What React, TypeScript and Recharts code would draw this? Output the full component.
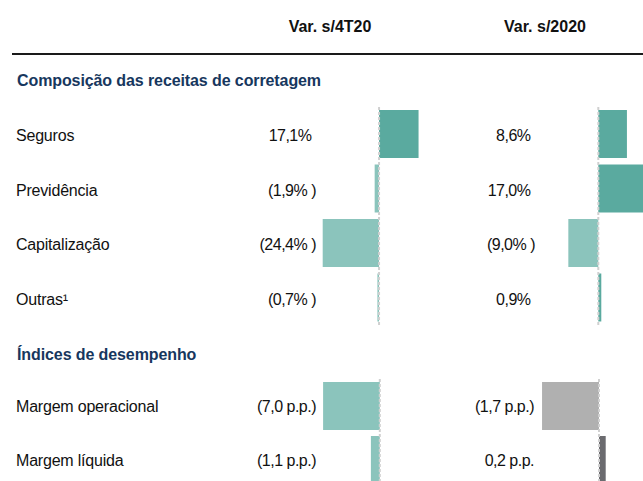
import React from 'react';
import { BarChart, Bar, XAxis, YAxis, ReferenceLine, Cell } from 'recharts';

// brokerage revenue mix (variation, %)
const compCategories = ['Seguros', 'Previdência', 'Capitalização', 'Outras¹'];
const compVar4T20 = [17.1, -1.9, -24.4, -0.7];
const compVar2020 = [8.6, 17.0, -9.0, 0.9];

// performance ratios (variation, p.p.)
const perfCategories = ['Margem operacional', 'Margem líquida'];
const perfVar4T20 = [-7.0, -1.1];
const perfVar2020 = [-1.7, 0.2];

const columnHeaders = ['Var. s/4T20', 'Var. s/2020'];
const sectionTitles = ['Composição das receitas de corretagem', 'Índices de desempenho'];

const TEAL = { pos: '#5aaa9f', neg: '#8bc4bc' };
const GRAY = { pos: '#6b6b6f', neg: '#b0b0b0' };

const FONT = '"Liberation Sans", Arial, sans-serif';
const BAND = 54.5;
const COMP_TOP = 107;
const PERF_TOP = 379;
const ZERO_1 = 379.5;
const ZERO_2 = 598.5;
const VALUE_RIGHT_1 = 316;
const VALUE_RIGHT_2 = 535;

const fmt = (v: number) => Math.abs(v).toFixed(1).replace('.', ',');
const fmtPct = (v: number) => (v < 0 ? `(${fmt(v)}% )` : `${fmt(v)}%`);
const fmtPp = (v: number) => (v < 0 ? `(${fmt(v)} p.p.)` : `${fmt(v)} p.p.`);

interface Palette {
  pos: string;
  neg: string;
}

interface StripProps {
  names: string[];
  values: number[];
  domain: [number, number];
  pxPerUnit: number;
  zeroX: number;
  top: number;
  band: number;
  palette: Palette;
}

function BarStrip({ names, values, domain, pxPerUnit, zeroX, top, band, palette }: StripProps) {
  const data = names.map((name, i) => ({ name, value: values[i] }));
  const width = (domain[1] - domain[0]) * pxPerUnit;
  const left = zeroX + domain[0] * pxPerUnit;
  return (
    <div style={{ position: 'absolute', left, top }}>
      <BarChart
        width={width}
        height={band * names.length}
        data={data}
        layout="vertical"
        margin={{ top: 0, right: 0, bottom: 0, left: 0 }}
        barSize={48}
      >
        <XAxis type="number" domain={domain} allowDataOverflow hide />
        <YAxis type="category" dataKey="name" hide />
        <Bar dataKey="value" isAnimationActive={false}>
          {data.map((d, i) => (
            <Cell key={i} fill={d.value >= 0 ? palette.pos : palette.neg} />
          ))}
        </Bar>
        <ReferenceLine x={0} stroke="#d0d0d0" strokeWidth={2} strokeDasharray="3 2" />
      </BarChart>
    </div>
  );
}

interface TextOpts {
  left?: number;
  right?: number;
  center?: number;
  bold?: boolean;
  color?: string;
  pad?: number;
  spacing?: number;
}

const text = (content: string, capMid: number, opts: TextOpts) => {
  const style: React.CSSProperties = {
    position: 'absolute',
    top: capMid - 9.8,
    lineHeight: '20px',
    fontSize: 16,
    fontWeight: opts.bold ? 700 : 400,
    color: opts.color ?? '#111',
    letterSpacing: opts.spacing ?? 0,
    whiteSpace: 'pre',
  };
  if (opts.left !== undefined) {
    style.left = opts.left;
  } else if (opts.right !== undefined) {
    style.left = opts.right - 150;
    style.width = 150;
    style.textAlign = 'right';
    style.paddingRight = opts.pad ?? 0;
    style.boxSizing = 'border-box';
  } else if (opts.center !== undefined) {
    style.left = opts.center - 80;
    style.width = 160;
    style.textAlign = 'center';
  }
  return (
    <div key={content + capMid + (opts.left ?? opts.right ?? opts.center)} style={style}>
      {content}
    </div>
  );
};

export default function App() {
  const perfBand = 54;
  return (
    <div
      style={{
        position: 'absolute',
        left: 0,
        top: 0,
        width: 643,
        height: 481,
        overflow: 'hidden',
        background: '#fff',
        fontFamily: FONT,
      }}
    >
      {text(columnHeaders[0], 27, { center: 330, bold: true })}
      {text(columnHeaders[1], 27, { center: 545, bold: true })}
      <div style={{ position: 'absolute', left: 12, top: 53, width: 631, height: 2, background: '#1a1a1a' }} />

      {text(sectionTitles[0], 81, { left: 17, bold: true, color: '#17375e', spacing: -0.1 })}
      {compCategories.map((name, i) => {
        const mid = COMP_TOP + (i + 0.5) * BAND + 2;
        return (
          <React.Fragment key={name}>
            {text(name, mid, { left: 16, spacing: -0.2 })}
            {text(fmtPct(compVar4T20[i]), mid, { right: VALUE_RIGHT_1, spacing: -0.5, pad: compVar4T20[i] >= 0 ? 4.5 : 0 })}
            {text(fmtPct(compVar2020[i]), mid, { right: VALUE_RIGHT_2, spacing: -0.5, pad: compVar2020[i] >= 0 ? 4.5 : 0 })}
          </React.Fragment>
        );
      })}

      {text(sectionTitles[1], 355, { left: 17, bold: true, color: '#17375e', spacing: -0.1 })}
      {perfCategories.map((name, i) => {
        const mid = PERF_TOP + (i + 0.5) * perfBand + 1;
        return (
          <React.Fragment key={name}>
            {text(name, mid, { left: 16, spacing: -0.2 })}
            {text(fmtPp(perfVar4T20[i]), mid, { right: VALUE_RIGHT_1, spacing: -0.5 })}
            {text(fmtPp(perfVar2020[i]), mid, { right: VALUE_RIGHT_2 - 1, spacing: -0.5 })}
          </React.Fragment>
        );
      })}

      <BarStrip names={compCategories} values={compVar4T20} domain={[-26, 20]} pxPerUnit={2.31} zeroX={ZERO_1} top={COMP_TOP} band={BAND} palette={TEAL} />
      <BarStrip names={compCategories} values={compVar2020} domain={[-10, 20]} pxPerUnit={3.33} zeroX={ZERO_2} top={COMP_TOP} band={BAND} palette={TEAL} />
      <BarStrip names={perfCategories} values={perfVar4T20} domain={[-8, 2]} pxPerUnit={8.1} zeroX={ZERO_1} top={PERF_TOP} band={perfBand} palette={TEAL} />
      <BarStrip names={perfCategories} values={perfVar2020} domain={[-2, 1]} pxPerUnit={33.5} zeroX={ZERO_2} top={PERF_TOP} band={perfBand} palette={GRAY} />
    </div>
  );
}
